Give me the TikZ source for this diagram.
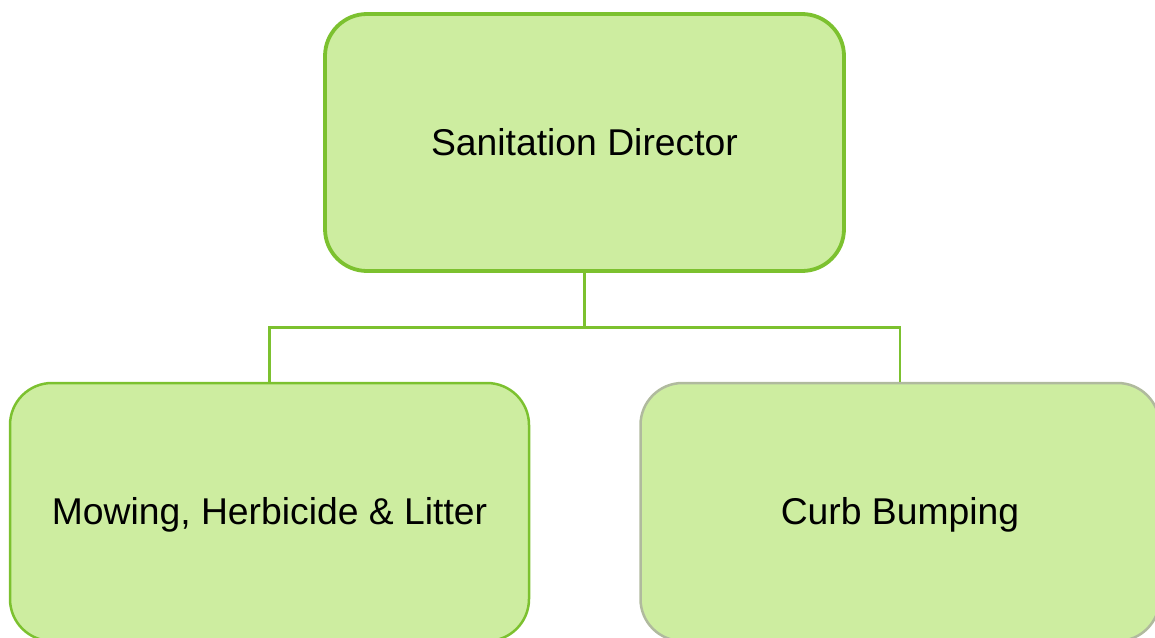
\documentclass[tikz,border=0pt]{standalone}
\usepackage{fontspec}
\setmainfont{Liberation Sans}
\definecolor{boxfill}{HTML}{CDEDA0}
\definecolor{boxgreen}{HTML}{7CC12F}
\definecolor{boxgrey}{HTML}{B0BA9E}
\tikzset{
  orgbox/.style={draw=boxgreen, fill=boxfill, rounded corners=42pt,
    minimum width=519pt, minimum height=258pt, inner sep=0pt,
    text height=27pt, text depth=1.5pt,
    font=\fontsize{37.3}{45}\selectfont, text=black},
  link/.style={draw=boxgreen, line width=2.2pt}
}
\begin{document}
\begin{tikzpicture}[x=1pt,y=-1pt]
\useasboundingbox (0,0) rectangle (1155,637);
\clip (0,0) rectangle (1155,637);
\node[orgbox, line width=3.8pt, minimum height=257pt] (dir) at (584.5,142.5) {Sanitation Director};
\node[orgbox, line width=2.5pt] (mow) at (269.5,512) {Mowing, Herbicide \& Litter};
\node[orgbox, draw=boxgrey, line width=2.5pt] (curb) at (900,512) {Curb Bumping};
\coordinate (mid) at (584.5,327.5);
\draw[link] (dir.south) -- (mid) -| (mow.north);
\draw[link] (mid) -| (curb.north);
\end{tikzpicture}
\end{document}
